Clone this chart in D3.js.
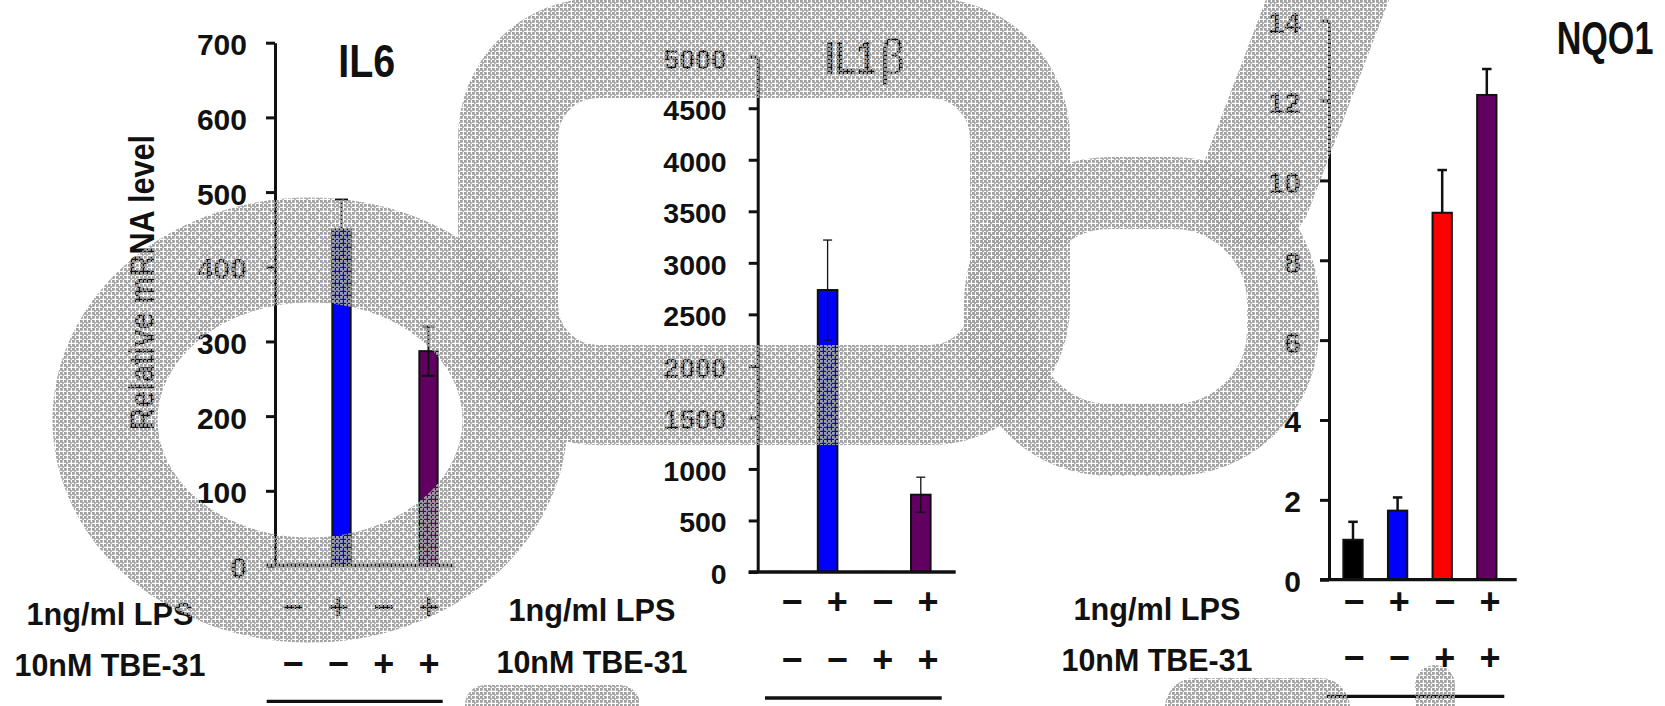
<!DOCTYPE html>
<meta charset="utf-8">
<style>
body { margin: 0; background: #fff; }
text { font-family: "Liberation Sans", Arial, sans-serif; font-weight: bold; fill: #111; }
</style>
<svg width="1665" height="706"></svg>
<script src="https://d3js.org/d3.v7.min.js"></script>
<script>
var width = 1665,
    height = 706;

// data
var conditions = ["ctrl", "lps", "tbe", "lps_tbe"];
var lpsSigns = ["\u2212", "+", "\u2212", "+"];
var tbeSigns = ["\u2212", "\u2212", "+", "+"];
var barColors = ["#000000", "#0000ff", "#ff0000", "#620062"];

var il6Values = [1, 450, 1, 287];
var il6Errors = [0, 40, 0, 33];
var il6Ticks = [0, 100, 200, 300, 400, 500, 600, 700];

var il1bValues = [1, 2736, 1, 750];
var il1bErrors = [0, 485, 0, 170];
var il1bTicks = [0, 500, 1000, 1500, 2000, 2500, 3000, 3500, 4000, 4500, 5000];

var nqo1Values = [1.0, 1.73, 9.19, 12.14];
var nqo1Errors = [0.45, 0.33, 1.07, 0.65];
var nqo1Ticks = [0, 2, 4, 6, 8, 10, 12, 14];

var rowLabels = ["1ng/ml LPS", "10nM TBE-31"];

// layout of the three panels
var panels = [
  { values: il6Values, errors: il6Errors, ticks: il6Ticks,
    axisX: 275, yTop: 42.7, yBottom: 565.5, c0: 298, step: 43.5, barW: 18.3, xEnd: 454,
    tickFont: 30, tickGap: 28, errW: 2, errCap: 13, lowerErr: true,
    signX: [293, 429], signY: [606, 663], labelX: 110, labelY: [624.7, 676.3],
    underline: [266.7, 442.7, 701.3] },
  { values: il1bValues, errors: il1bErrors, ticks: il1bTicks,
    axisX: 757.7, yTop: 56.7, yBottom: 572, c0: 781, step: 46.6, barW: 19.6, xEnd: 955.7,
    tickFont: 28.5, tickGap: 31, errW: 1.3, errCap: 9, lowerErr: true,
    signX: [792, 928], signY: [601, 659], labelX: 592, labelY: [621.3, 673],
    underline: [765, 941.7, 698] },
  { values: nqo1Values, errors: nqo1Errors, ticks: nqo1Ticks,
    axisX: 1329, yTop: 20.7, yBottom: 579.7, c0: 1353, step: 44.6, barW: 19.3, xEnd: 1516.7,
    tickFont: 30, tickGap: 28, errW: 2.5, errCap: 9.5, lowerErr: false,
    signX: [1354, 1490], signY: [601, 657], labelX: 1157, labelY: [619.7, 671.3],
    underline: [1326.7, 1504.3, 696.3] }
];

var svg = d3.select("svg");

panels.forEach(drawPanel);

function drawPanel(p) {
  var g = svg.append("g");
  var n = conditions.length;
  var pad = 1 - p.barW / p.step;

  var x = d3.scaleBand()
      .domain(conditions)
      .range([p.c0 - p.step / 2, p.c0 + (n - 0.5) * p.step])
      .paddingInner(pad)
      .paddingOuter(pad / 2);

  var y = d3.scaleLinear()
      .domain([0, d3.max(p.ticks)])
      .range([p.yBottom, p.yTop]);

  var rows = conditions.map(function(c, i) {
    return { key: c, value: p.values[i], err: p.errors[i], color: barColors[i] };
  });

  // bars
  g.selectAll(".bar")
    .data(rows)
    .enter().append("rect")
      .attr("x", function(d) { return x(d.key); })
      .attr("y", function(d) { return y(d.value); })
      .attr("width", x.bandwidth())
      .attr("height", function(d) { return y(0) - y(d.value); })
      .attr("fill", function(d) { return d.color; })
      .attr("stroke", "#111")
      .attr("stroke-width", 2);

  // error bars
  var eb = g.selectAll(".err")
    .data(rows.filter(function(d) { return d.err > 0; }))
    .enter().append("g")
      .attr("stroke", "#111")
      .attr("stroke-width", p.errW);

  function cx(d) { return x(d.key) + x.bandwidth() / 2; }

  eb.append("line")
      .attr("x1", cx)
      .attr("x2", cx)
      .attr("y1", function(d) { return y(d.value + d.err); })
      .attr("y2", function(d) { return p.lowerErr ? y(d.value - d.err) : y(d.value); });

  eb.append("line")
      .attr("x1", function(d) { return cx(d) - p.errCap / 2; })
      .attr("x2", function(d) { return cx(d) + p.errCap / 2; })
      .attr("y1", function(d) { return y(d.value + d.err); })
      .attr("y2", function(d) { return y(d.value + d.err); });

  if (p.lowerErr) {
    eb.append("line")
        .attr("x1", function(d) { return cx(d) - p.errCap / 2; })
        .attr("x2", function(d) { return cx(d) + p.errCap / 2; })
        .attr("y1", function(d) { return y(d.value - d.err); })
        .attr("y2", function(d) { return y(d.value - d.err); });
  }

  // y axis
  var axis = g.append("g")
      .attr("transform", "translate(" + p.axisX + ",0)")
      .call(d3.axisLeft(y)
        .tickValues(p.ticks)
        .tickFormat(d3.format("d"))
        .tickSize(9)
        .tickSizeOuter(0)
        .tickPadding(p.tickGap - 9));

  axis.attr("font-family", null).attr("font-size", null);
  axis.select(".domain").attr("stroke", "#111").attr("stroke-width", 3);
  axis.selectAll(".tick line").attr("stroke", "#111").attr("stroke-width", 3);
  axis.selectAll(".tick text")
      .attr("dy", "0.4em")
      .style("font-size", p.tickFont + "px")
      .attr("fill", "#111");

  // x baseline
  g.append("line")
      .attr("x1", p.axisX - 9)
      .attr("x2", p.xEnd)
      .attr("y1", y(0))
      .attr("y2", y(0))
      .attr("stroke", "#111")
      .attr("stroke-width", 3.3);

  // treatment signs
  var sx = d3.scalePoint().domain(conditions).range(p.signX);
  [lpsSigns, tbeSigns].forEach(function(signs, r) {
    g.selectAll(".sign" + r)
      .data(signs)
      .enter().append("text")
        .attr("x", function(d, i) { return sx(conditions[i]); })
        .attr("y", p.signY[r] + 12.5)
        .attr("text-anchor", "middle")
        .style("font-size", "36px")
        .text(function(d) { return d; });
  });

  // row labels
  rowLabels.forEach(function(t, r) {
    g.append("text")
        .attr("x", p.labelX)
        .attr("y", p.labelY[r])
        .attr("text-anchor", "middle")
        .attr("textLength", r === 0 ? 167 : 191)
        .attr("lengthAdjust", "spacingAndGlyphs")
        .style("font-size", "32px")
        .text(t);
  });

  g.append("line")
      .attr("x1", p.underline[0])
      .attr("x2", p.underline[1])
      .attr("y1", p.underline[2])
      .attr("y2", p.underline[2])
      .attr("stroke", "#111")
      .attr("stroke-width", 3.3);
}

// titles
var narrow = "'Liberation Sans Narrow', 'Liberation Sans', sans-serif";

svg.append("text")
    .attr("x", 338.3).attr("y", 77.3)
    .attr("textLength", 57).attr("lengthAdjust", "spacingAndGlyphs")
    .style("font-family", narrow)
    .style("font-size", "47px")
    .text("IL6");

svg.append("text")
    .attr("x", 825).attr("y", 74)
    .attr("textLength", 51).attr("lengthAdjust", "spacingAndGlyphs")
    .style("font-family", narrow)
    .style("font-size", "46px")
    .text("IL1");

svg.append("text")
    .attr("x", 880).attr("y", 74)
    .style("font-family", "'Liberation Serif', serif")
    .style("font-weight", "normal")
    .style("font-size", "50px")
    .text("\u03b2");

svg.append("text")
    .attr("x", 1556.7).attr("y", 54)
    .attr("textLength", 96.7).attr("lengthAdjust", "spacingAndGlyphs")
    .style("font-family", narrow)
    .style("font-size", "46px")
    .text("NQO1");

svg.append("text")
    .attr("transform", "translate(154,282.4) rotate(-90)")
    .attr("text-anchor", "middle")
    .attr("textLength", 295).attr("lengthAdjust", "spacingAndGlyphs")
    .style("font-size", "35px")
    .text("Relative mRNA level");

// gray dotted watermark laid over the figure
var pat = svg.append("defs").append("pattern")
    .attr("id", "wm")
    .attr("patternUnits", "userSpaceOnUse")
    .attr("width", 12)
    .attr("height", 12);
[[0, 0], [4, 0], [8, 0], [0, 4], [4, 4], [8, 4], [0, 8], [4, 8], [8, 8]].forEach(function(d) {
  pat.append("rect")
      .attr("x", d[0]).attr("y", d[1])
      .attr("width", 2.8).attr("height", 2.8)
      .attr("fill", "#a0a0a0");
});
[[2, 2], [6, 6], [10, 10], [10, 2], [2, 10]].forEach(function(d) {
  pat.append("rect")
      .attr("x", d[0]).attr("y", d[1])
      .attr("width", 1.8).attr("height", 1.8)
      .attr("fill", "#a0a0a0");
});

var wm = svg.append("g")
    .attr("fill", "none")
    .attr("stroke", "url(#wm)")
    .attr("stroke-linecap", "round");

wm.append("ellipse")
    .attr("cx", 310).attr("cy", 420).attr("rx", 205).attr("ry", 170)
    .attr("stroke-width", 105);
wm.append("rect")
    .attr("x", 508).attr("y", 48).attr("width", 512).attr("height", 347)
    .attr("rx", 90)
    .attr("stroke-width", 100);
wm.append("rect")
    .attr("x", 1000).attr("y", 193).attr("width", 283).attr("height", 247)
    .attr("rx", 110)
    .attr("stroke-width", 72);
wm.append("line")
    .attr("x1", 1335).attr("y1", -20).attr("x2", 1255).attr("y2", 190)
    .attr("stroke-width", 115);
wm.append("line")
    .attr("x1", 485).attr("y1", 705).attr("x2", 620).attr("y2", 705)
    .attr("stroke-width", 40);
wm.append("line")
    .attr("x1", 1195).attr("y1", 708).attr("x2", 1320).attr("y2", 708)
    .attr("stroke-width", 60);
wm.append("line")
    .attr("x1", 1435).attr("y1", 685).attr("x2", 1435).attr("y2", 720)
    .attr("stroke-width", 40);
</script>
